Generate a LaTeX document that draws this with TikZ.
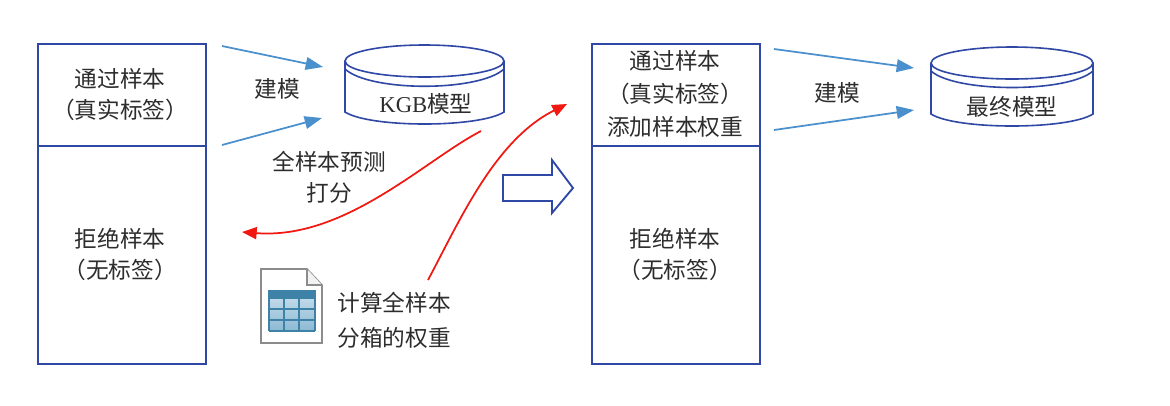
\documentclass[tikz,border=0pt]{standalone}
\usepackage{fontspec}
\setmainfont{Liberation Serif}
\newfontfamily\cjk{Noto Sans CJK SC}
\usetikzlibrary{arrows.meta}
\definecolor{boxblue}{RGB}{48,72,165}
\definecolor{arrowblue}{RGB}{74,144,205}
\definecolor{redline}{RGB}{240,24,16}
\definecolor{txt}{RGB}{45,45,45}
\definecolor{tblhead}{RGB}{62,130,168}
\definecolor{tbltop}{RGB}{205,226,238}
\definecolor{tblbot}{RGB}{140,185,212}
\definecolor{icongray}{RGB}{140,140,140}
\tikzset{
  x=0.75pt,y=-0.75pt,
  sbox/.style={draw=boxblue,line width=1.6pt,minimum width=126pt,inner sep=0pt,anchor=north west,align=center,text=txt},
  lbl/.style={font=\cjk\fontsize{17}{23.5}\selectfont,text=txt,align=center,inner sep=0pt},
  barrow/.style={draw=arrowblue,line width=1.3pt,-{Triangle[length=13pt,width=9.5pt]}},
  rarrow/.style={draw=redline,line width=1.3pt,-{Triangle[length=11pt,width=9pt]}},
  cyl/.style={draw=boxblue,line width=1.2pt,fill=white},
}
\newcommand{\cylshape}[5]{% left,right,top,split,bottom
  \pgfmathsetmacro{\rx}{(#2-#1)/2}
  \draw[cyl] (#1,#3+16) arc[start angle=180,end angle=360,x radius=\rx*0.75pt,y radius=16*0.75pt]
     arc[start angle=0,end angle=180,x radius=\rx*0.75pt,y radius=16*0.75pt] -- cycle;
  \draw[cyl,fill=none] (#1,#3+16) -- (#1,#5-12) .. controls (#1+25,#5+4) and (#2-25,#5+4) .. (#2,#5-12) -- (#2,#3+16);
  \draw[cyl,fill=none] (#1,#3+24) .. controls (#1+25,#4+5) and (#2-25,#4+5) .. (#2,#3+24);
}
\begin{document}
\begin{tikzpicture}
\useasboundingbox (0,0) rectangle (1170,405);
\fill[white] (0,0) rectangle (1170,405);

% left stacked box
\node[sbox,minimum height=76.5pt] (lt) at (37,43) {};
\node[sbox,minimum height=163.5pt] (lb) at (37,145) {};
\node[lbl] (ltx) at (120,94.5) {通过样本\\（真实标签）};
\node[lbl] (lbx) at (120,254.5) {拒绝样本\\（无标签）};

% right stacked box
\node[sbox,minimum height=76.5pt] (rt) at (591,43) {};
\node[sbox,minimum height=163.5pt] (rb) at (591,145) {};
\node[lbl,font=\cjk\fontsize{17}{24.7}\selectfont] (rtx) at (675,94) {通过样本\\（真实标签）\\添加样本权重};
\node[lbl] (rbx) at (675,254.5) {拒绝样本\\（无标签）};

% cylinders
\cylshape{345}{504}{45}{87}{124}
\node[lbl] (kgb) at (426,104) {{\rmfamily KGB}模型};
\cylshape{931}{1093}{47}{88}{126}
\node[lbl] (final) at (1012,107) {最终模型};

% anchors of free arrow ends
\coordinate (a1s) at (222,46);  \coordinate (a1e) at (323,67);
\coordinate (a2s) at (222,145); \coordinate (a2e) at (322,118);
\coordinate (a3s) at (774,49);  \coordinate (a3e) at (914,68);
\coordinate (a4s) at (774,130); \coordinate (a4e) at (914,110);
\coordinate (r1s) at (481,131); \coordinate (r1e) at (242,232);
\coordinate (r2s) at (428,280); \coordinate (r2e) at (567,104);

\draw[barrow] (a1s) -- (a1e);
\draw[barrow] (a2s) -- (a2e);
\draw[barrow] (a3s) -- (a3e);
\draw[barrow] (a4s) -- (a4e);
\node[lbl] (jm1) at (277,89) {建模};
\node[lbl] (jm2) at (837,93) {建模};

% red curves
\draw[rarrow] (r1s) .. controls (425,160) and (345,240) .. (r1e);
\draw[rarrow] (r2s) .. controls (460,220) and (495,140) .. (r2e);

\node[lbl] (pred) at (329,177) {全样本预测\\打分};
\node[lbl,font=\cjk\fontsize{17}{26}\selectfont] (calc) at (394,320) {计算全样本\\分箱的权重};

% big hollow arrow
\draw[draw=boxblue,line width=1.4pt,fill=white] (503,175) -- (552,175) -- (552,160) -- (573,188) -- (552,213) -- (552,201) -- (503,201) -- cycle;

% document icon
\draw[draw=icongray,line width=1.2pt,fill=white] (261,269) -- (307,269) -- (322,285) -- (322,343) -- (261,343) -- cycle;
\draw[draw=icongray,line width=.8pt,fill=gray!10] (307,269) -- (307,285) -- (322,285);
\shade[top color=tbltop,bottom color=tblbot] (269,290) rectangle (315,331);
\fill[tblhead] (269,290) rectangle (315,298);
\foreach \x in {269,284,299,315} \draw[draw=tblhead,line width=1pt] (\x,290) -- (\x,331);
\foreach \y in {298,309,320,331} \draw[draw=tblhead,line width=1pt] (269,\y) -- (315,\y);
\end{tikzpicture}
\end{document}
